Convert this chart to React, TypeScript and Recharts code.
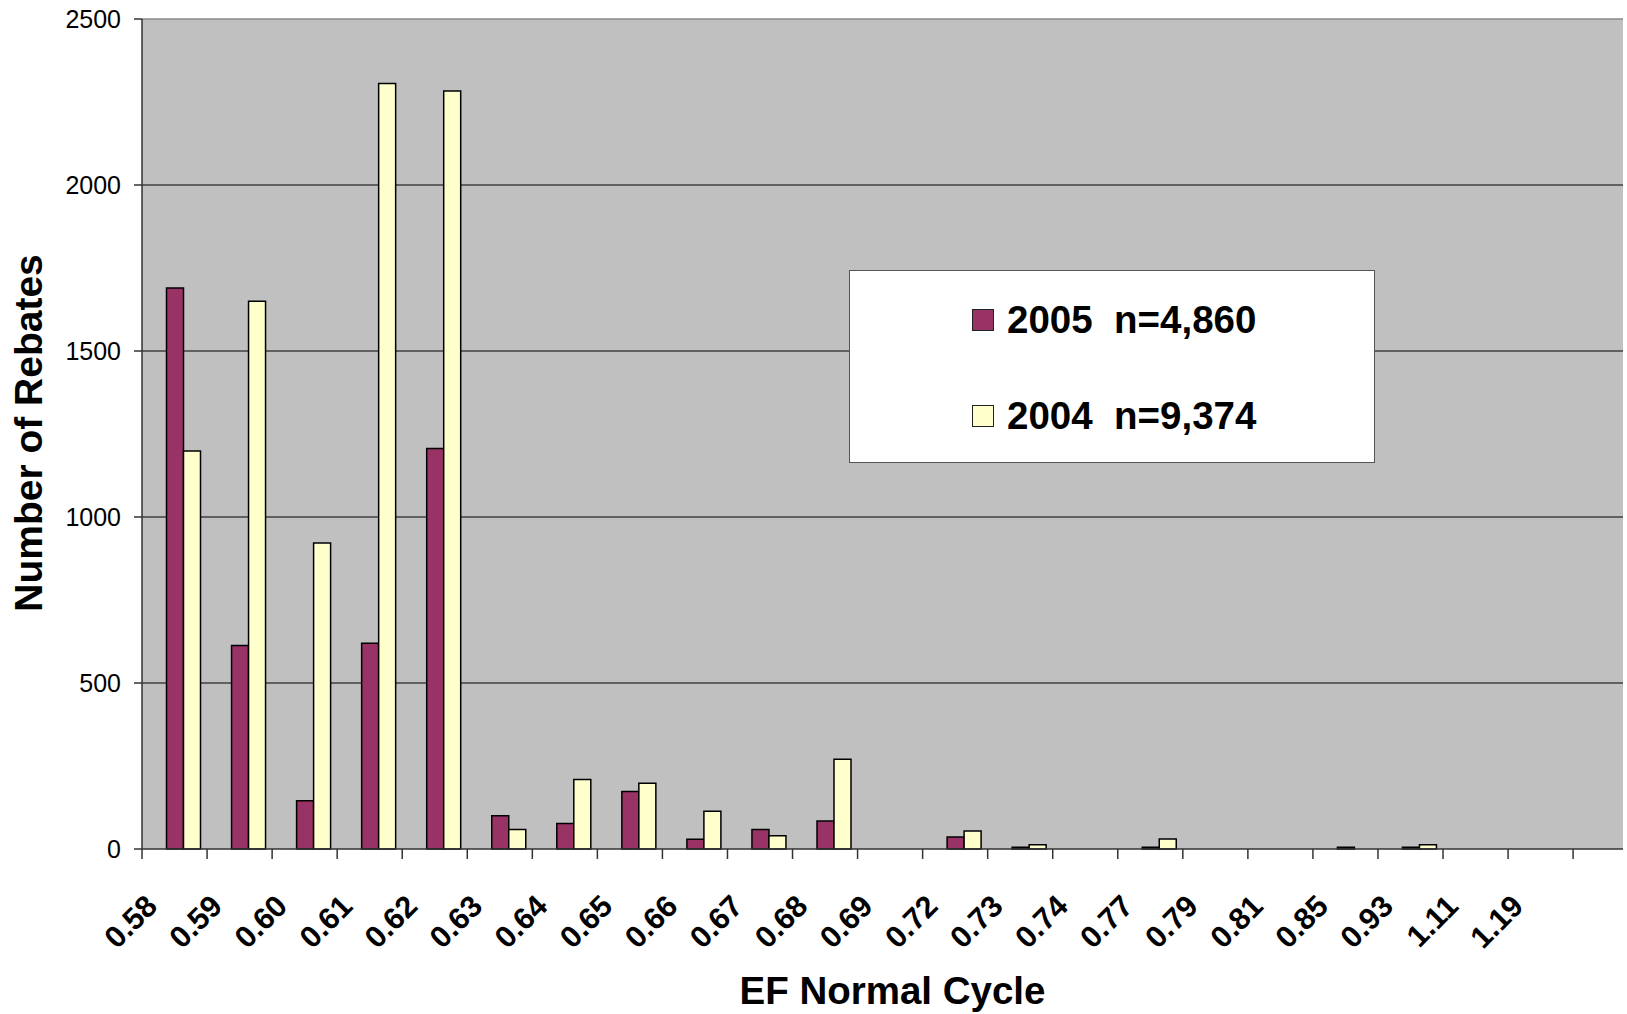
import React from 'react';
import {
  BarChart,
  Bar,
  XAxis,
  YAxis,
  CartesianGrid,
  ReferenceLine,
} from 'recharts';

const categories = [
  '0.58', '0.59', '0.60', '0.61', '0.62', '0.63', '0.64', '0.65', '0.66', '0.67', '0.68',
  '0.69', '0.72', '0.73', '0.74', '0.77', '0.79', '0.81', '0.85', '0.93', '1.11', '1.19',
];
const rebates2005 = [1690, 613, 145, 620, 1206, 100, 77, 173, 29, 59, 84, 0, 36, 5, 0, 5, 0, 0, 5, 5, 0, 0];
const rebates2004 = [1199, 1650, 922, 2306, 2283, 59, 209, 198, 114, 40, 270, 0, 54, 13, 0, 30, 0, 0, 0, 13, 0, 0];
const yTicks = [0, 500, 1000, 1500, 2000, 2500];
const seriesNames = ['2005  n=4,860', '2004  n=9,374'];
const seriesColors = ['#993366', '#FFFFCC'];

const FONT = '"Liberation Sans", Arial, sans-serif';

const data = categories.map((c, i) => ({
  name: c,
  y2005: rebates2005[i],
  y2004: rebates2004[i],
}));

// Excel puts tick marks between categories, bars sit a bit right of band center
const CategoryTick = (props: any) => {
  const { x, y, payload, index } = props;
  const last = index === categories.length - 1;
  return (
    <g>
      <line x1={x - 41} x2={x - 41} y1={y} y2={y + 10} stroke="#333" strokeWidth={1.5} />
      {last && <line x1={x + 24} x2={x + 24} y1={y} y2={y + 10} stroke="#333" strokeWidth={1.5} />}
      <text
        x={0}
        y={0}
        transform={`translate(${x - 24},${y + 59}) rotate(-45)`}
        textAnchor="end"
        fontFamily={FONT}
        fontWeight="bold"
        fontSize={30.5}
        fill="#000"
      >
        {payload.value}
      </text>
    </g>
  );
};

export default function App() {
  return (
    <div style={{ position: 'absolute', left: 0, top: 0, width: 1627, height: 1014, background: '#fff' }}>
      <BarChart
        width={1627}
        height={1014}
        data={data}
        margin={{ top: 19, right: 4, bottom: 15, left: 32 }}
        barGap={0}
        barSize={17}
      >
        <CartesianGrid
          vertical={false}
          fill="#C0C0C0"
          stroke="#000"
          strokeWidth={1}
          horizontalValues={[500, 1000, 1500, 2000]}
        />
        <ReferenceLine y={2500} stroke="#8a8a8a" strokeWidth={1.5} />
        <XAxis
          dataKey="name"
          interval={0}
          height={150}
          padding={{ left: 8.5, right: 41.4 }}
          tickLine={false}
          tickSize={0}
          tickMargin={0}
          axisLine={{ stroke: '#333', strokeWidth: 1.5 }}
          tick={<CategoryTick />}
          label={{
            content: (p: any) => (
              <text
                x={p.viewBox.x + p.viewBox.width / 2 + 10}
                y={1004}
                textAnchor="middle"
                fontFamily={FONT}
                fontWeight="bold"
                fontSize={38.5}
                fill="#000"
              >
                EF Normal Cycle
              </text>
            ),
          }}
        />
        <YAxis
          width={110}
          domain={[0, 2500]}
          ticks={yTicks}
          interval={0}
          tickSize={8}
          tickMargin={13}
          tickLine={{ stroke: '#333', strokeWidth: 1.5 }}
          axisLine={{ stroke: '#333', strokeWidth: 1.5 }}
          tick={{ fontFamily: FONT, fontSize: 25, fill: '#000' }}
          label={{
            content: () => (
              <text
                x={42}
                y={433}
                transform="rotate(-90,42,433)"
                textAnchor="middle"
                fontFamily={FONT}
                fontWeight="bold"
                fontSize={39}
                fill="#000"
              >
                Number of Rebates
              </text>
            ),
          }}
        />
        <Bar dataKey="y2005" name={seriesNames[0]} fill={seriesColors[0]} stroke="#000" strokeWidth={1.5} isAnimationActive={false} />
        <Bar dataKey="y2004" name={seriesNames[1]} fill={seriesColors[1]} stroke="#000" strokeWidth={1.5} isAnimationActive={false} />
      </BarChart>
      <div
        style={{
          position: 'absolute',
          left: 849,
          top: 270,
          width: 526,
          height: 193,
          boxSizing: 'border-box',
          background: '#fff',
          border: '1.5px solid #555',
          fontFamily: FONT,
          fontWeight: 'bold',
          fontSize: 38.5,
        }}
      >
        {seriesNames.map((n, i) => (
          <div
            key={n}
            style={{ position: 'absolute', left: 122, top: 27 + i * 96, height: 44, display: 'flex', alignItems: 'center', whiteSpace: 'pre' }}
          >
            <span
              style={{
                display: 'inline-block',
                width: 20,
                height: 20,
                background: seriesColors[i],
                border: '1.5px solid #222',
                marginRight: 13,
              }}
            />
            <span>{n}</span>
          </div>
        ))}
      </div>
    </div>
  );
}
